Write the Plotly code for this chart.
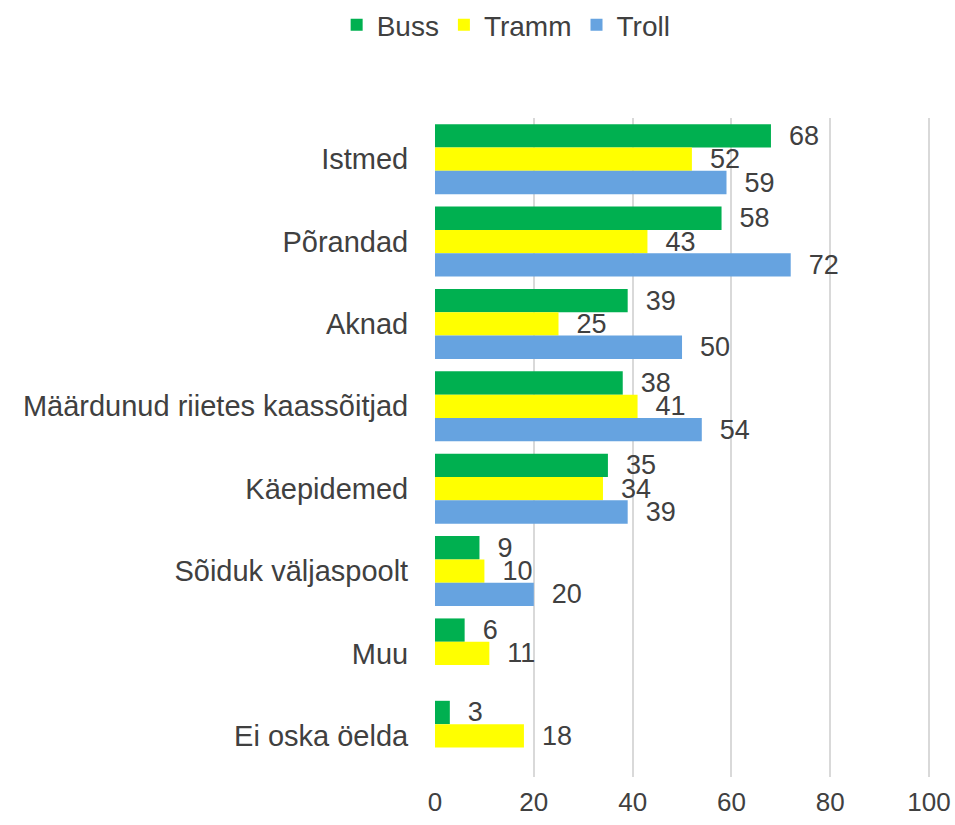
import plotly.graph_objects as go

# Survey categories (top to bottom) and share of answers per vehicle type
categories = [
    "Istmed",
    "Põrandad",
    "Aknad",
    "Määrdunud riietes kaassõitjad",
    "Käepidemed",
    "Sõiduk väljaspoolt",
    "Muu",
    "Ei oska öelda",
]
buss = [68, 58, 39, 38, 35, 9, 6, 3]
tramm = [52, 43, 25, 41, 34, 10, 11, 18]
troll = [59, 72, 50, 54, 39, 20, None, None]
x_ticks = [0, 20, 40, 60, 80, 100]

series = [
    ("Buss", buss, "#00B050"),
    ("Tramm", tramm, "#FFFF00"),
    ("Troll", troll, "#66A3E0"),
]

TEXT = "#404040"
FONT = "Arial, Liberation Sans, sans-serif"

fig = go.Figure()
for name, vals, color in series:
    fig.add_trace(go.Bar(
        name=name,
        y=categories,
        x=vals,
        orientation="h",
        marker=dict(color=color, line=dict(width=0)),
        text=[None if v is None else f"  {v}" for v in vals],
        textposition="outside",
        constraintext="none",
        textfont=dict(size=27, color=TEXT, family=FONT),
        cliponaxis=False,
    ))

fig.update_layout(
    width=955,
    height=825,
    barmode="group",
    bargap=0.15,
    bargroupgap=0,
    plot_bgcolor="white",
    paper_bgcolor="white",
    font=dict(family=FONT, size=26, color=TEXT),
    margin=dict(l=435, r=21, t=118, b=48),
    legend=dict(
        orientation="h",
        x=0.53,
        xref="container",
        yref="container",
        xanchor="center",
        y=1.0,
        yanchor="top",
        font=dict(size=28, color=TEXT),
        itemwidth=30,
        traceorder="normal",
    ),
    xaxis=dict(
        range=[0, 101],
        tickvals=x_ticks,
        showgrid=True,
        gridcolor="#D9D9D9",
        gridwidth=1.5,
        zeroline=False,
        showline=False,
        ticks="outside",
        ticklen=2,
        tickcolor="rgba(0,0,0,0)",
        tickfont=dict(size=26, color=TEXT),
        automargin=False,
    ),
    yaxis=dict(
        autorange="reversed",
        showgrid=False,
        zeroline=False,
        showline=False,
        ticks="outside",
        ticklen=20,
        tickcolor="rgba(0,0,0,0)",
        tickfont=dict(size=29, color=TEXT),
        automargin=False,
    ),
)

fig.write_html("out.html")
